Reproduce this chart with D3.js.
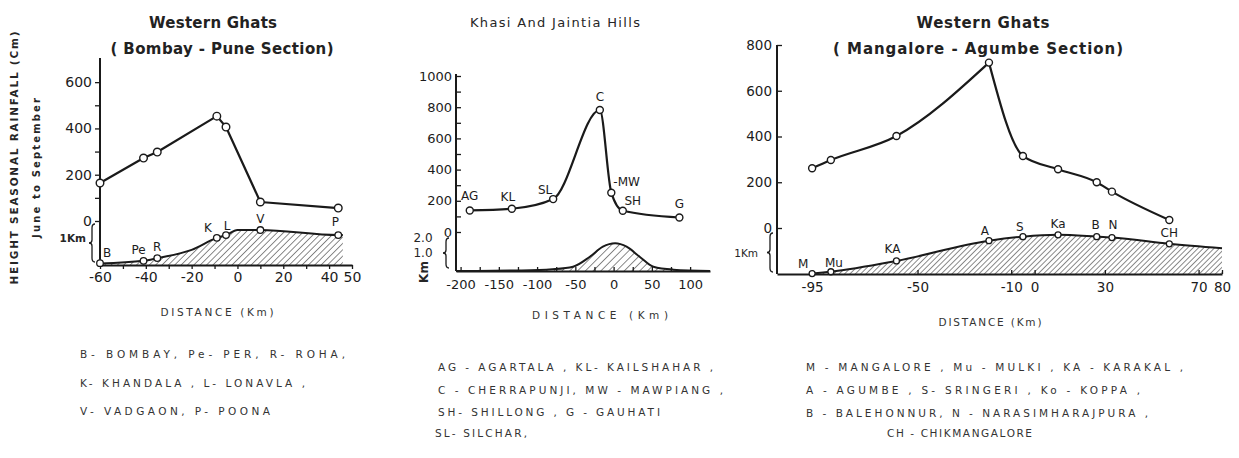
<!DOCTYPE html>
<html>
<head>
<meta charset="utf-8">
<title>Seasonal rainfall and height sections</title>
<script src="https://cdn.jsdelivr.net/npm/d3@7"></script>
<style>
  body { margin: 0; background: #fff; }
  svg text { font-family: "DejaVu Sans", sans-serif; fill: #262626; }
</style>
</head>
<body>
<script>
// Western Ghats, Bombay - Pune section
const bpCodes = ["B", "Pe", "R", "K", "L", "V", "P"];
const bpDist = [-60, -41, -35, -9, -5, 10, 44];
const bpRain = [164, 272, 298, 453, 406, 82, 56];
const bpHeight = [0.04, 0.09, 0.15, 0.59, 0.65, 0.76, 0.65];
const bpGroundDist = [-60, -41, -35, -20, -9, -5, 0, 10, 44, 46];
const bpGroundHeight = [0.03, 0.09, 0.15, 0.33, 0.59, 0.65, 0.76, 0.76, 0.65, 0.65];
const bpXTicks = [-60, -40, -20, 0, 20, 40, 50];
const bpXMinor = [-60, -50, -40, -30, -20, -10, 0, 10, 20, 30, 40, 50];
const bpYTicks = [0, 200, 400, 600];
const bpYMinor = [0, 100, 200, 300, 400, 500, 600];
const bpLegend = ["B- BOMBAY,  Pe- PER,  R- ROHA,", "K- KHANDALA ,  L- LONAVLA ,", "V- VADGAON,   P- POONA"];

// Khasi and Jaintia Hills
const kjCodes = ["AG", "KL", "SL", "C", "-MW", "SH", "G"];
const kjDist = [-188, -133, -79, -18, -3, 12, 86];
const kjRain = [138, 149, 211, 782, 252, 136, 93];
const kjGroundDist = [-206, -120, -80, -53, -31, -14, 2, 17, 34, 52, 78, 126];
const kjGroundHeight = [0, 0.03, 0.1, 0.25, 0.84, 1.43, 1.63, 1.43, 0.84, 0.25, 0.08, 0];
const kjXTicks = [-200, -150, -100, -50, 0, 50, 100];
const kjXMinor = [-200, -175, -150, -125, -100, -75, -50, -25, 0, 25, 50, 75, 100];
const kjYTicks = [0, 200, 400, 600, 800, 1000];
const kjYMinor = [0, 100, 200, 300, 400, 500, 600, 700, 800, 900, 1000];
const kjLegend = ["AG - AGARTALA ,  KL- KAILSHAHAR ,", "C - CHERRAPUNJI,  MW - MAWPIANG ,", "SH- SHILLONG ,  G - GAUHATI", "SL- SILCHAR,"];

// Western Ghats, Mangalore - Agumbe section
const maCodes = ["M", "Mu", "KA", "A", "S", "Ka", "B", "N", "CH"];
const maDist = [-95, -87, -59, -19.5, -5, 10, 26.5, 33, 57.5];
const maRain = [261, 297, 402, 723, 315, 257, 200, 159, 35];
const maHeight = [0.01, 0.05, 0.29, 0.74, 0.83, 0.87, 0.83, 0.81, 0.67];
const maGroundDist = [-95, -87, -59, -19.5, -5, 10, 26.5, 33, 57.5, 80];
const maGroundHeight = [0.01, 0.05, 0.29, 0.74, 0.83, 0.87, 0.83, 0.81, 0.67, 0.57];
const maXTicks = [-95, -50, -10, 0, 30, 70, 80];
const maYTicks = [0, 200, 400, 600, 800];
const maLegend = ["M - MANGALORE ,  Mu - MULKI ,  KA - KARAKAL ,", "A - AGUMBE ,  S- SRINGERI ,  Ko - KOPPA ,", "B - BALEHONNUR,   N - NARASIMHARAJPURA ,", "CH - CHIKMANGALORE"];

const ink = "#1a1a1a";
const svg = d3.select("body").append("svg").attr("width", 1239).attr("height", 458);
const defs = svg.append("defs");

function addHatch(id, gap) {
  const pat = defs.append("pattern").attr("id", id)
    .attr("patternUnits", "userSpaceOnUse")
    .attr("width", gap).attr("height", gap)
    .attr("patternTransform", "rotate(45)");
  pat.append("line").attr("x1", 0).attr("y1", 0).attr("x2", 0).attr("y2", gap)
    .attr("stroke", "#2a2a2a").attr("stroke-width", 1.1);
}
addHatch("hatch1", 4.5);
addHatch("hatch2", 5.5);
addHatch("hatch3", 3.8);

function txt(g, s, x, y, size, o = {}) {
  const t = g.append("text").attr("x", x).attr("y", y)
    .attr("font-size", size).attr("dominant-baseline", "central").text(s);
  t.attr("text-anchor", o.anchor || "start");
  if (o.len) t.attr("textLength", o.len).attr("lengthAdjust", "spacing");
  if (o.weight) t.attr("font-weight", o.weight);
  if (o.fill) t.style("fill", o.fill);
  if (o.rotate) t.attr("transform", `rotate(-90 ${x} ${y})`);
  return t;
}

function brace(g, bx, y1, y2) {
  const ym = (y1 + y2) / 2;
  g.append("path")
    .attr("d", `M${bx + 3},${y1} Q${bx},${y1} ${bx},${y1 + 4} L${bx},${ym - 3} Q${bx},${ym} ${bx - 3},${ym}` +
      ` Q${bx},${ym} ${bx},${ym + 3} L${bx},${y2 - 4} Q${bx},${y2} ${bx + 3},${y2}`)
    .attr("fill", "none").attr("stroke", ink).attr("stroke-width", 1.3);
}

function fmtDist(d) {
  return d < 0 ? "-" + Math.abs(d) : String(d);
}

function drawPanel(p) {
  const g = svg.append("g");
  const x = d3.scaleLinear().domain(p.xDomain).range(p.xRange);
  const y = d3.scaleLinear().domain(p.rainDomain).range(p.rainRange);
  const h = d3.scaleLinear().domain([0, 1]).range([p.base, p.base - p.kmPx]);

  // hatched ground profile
  const ground = d3.zip(p.groundDist, p.groundHeight);
  const area = d3.area().x(d => x(d[0])).y0(p.base).y1(d => h(d[1])).curve(d3.curveMonotoneX);
  g.append("path").datum(ground).attr("d", area).attr("fill", `url(#${p.hatch})`);
  g.append("path").datum(ground).attr("d", area.lineY1())
    .attr("fill", "none").attr("stroke", ink).attr("stroke-width", 2);

  // x axis
  const xAxis = d3.axisBottom(x).tickValues(p.xMinor).tickSizeInner(p.xTick).tickSizeOuter(0)
    .tickPadding(p.xPad).tickFormat(d => p.xTicks.includes(d) ? fmtDist(d) : "");
  const gx = g.append("g").attr("transform", `translate(0,${p.base})`).call(xAxis);
  gx.select(".domain").attr("stroke", ink).attr("stroke-width", 2);
  gx.selectAll(".tick line").attr("stroke", ink).attr("stroke-width", 1.3);
  gx.selectAll(".tick text").attr("font-size", p.tickFont).style("fill", "#1c1c1c")
    .attr("font-family", "DejaVu Sans, sans-serif");

  // y axis (rainfall)
  const yAxis = d3.axisLeft(y).tickValues(p.yMinor).tickSizeInner(p.yTick).tickSizeOuter(0)
    .tickPadding(p.yPad).tickFormat(d => p.yTicks.includes(d) ? d : "");
  const gy = g.append("g").attr("transform", `translate(${p.xRange[0]},0)`).call(yAxis);
  gy.select(".domain").remove();
  gy.selectAll(".tick line").attr("stroke", ink).attr("stroke-width", 1.3);
  gy.selectAll(".tick text").attr("font-size", p.tickFont).style("fill", "#1c1c1c")
    .attr("font-family", "DejaVu Sans, sans-serif");
  g.append("line").attr("x1", p.xRange[0]).attr("x2", p.xRange[0])
    .attr("y1", p.base).attr("y2", p.yTop).attr("stroke", ink).attr("stroke-width", 2);

  // rainfall line, split at a sharp peak if asked
  const rain = d3.zip(p.dist, p.rain);
  const pieces = p.peak != null ? [rain.slice(0, p.peak + 1), rain.slice(p.peak)] : [rain];
  const line = d3.line().x(d => x(d[0])).y(d => y(d[1])).curve(p.rainCurve);
  pieces.forEach(part => {
    g.append("path").datum(part).attr("d", line)
      .attr("fill", "none").attr("stroke", ink).attr("stroke-width", 2.2)
      .attr("stroke-linejoin", "round");
  });
  g.selectAll("circle.rain").data(rain).enter().append("circle").attr("class", "rain")
    .attr("cx", d => x(d[0])).attr("cy", d => y(d[1])).attr("r", p.r)
    .attr("fill", "#fff").attr("stroke", ink).attr("stroke-width", 1.4);

  // station markers on the ground line
  if (p.height) {
    g.selectAll("circle.ground").data(d3.zip(p.dist, p.height)).enter().append("circle")
      .attr("class", "ground")
      .attr("cx", d => x(d[0])).attr("cy", d => h(d[1])).attr("r", p.r - 0.5)
      .attr("fill", "#fff").attr("stroke", ink).attr("stroke-width", 1.3);
  }

  // station codes
  p.codes.forEach((c, i) => {
    const ly = p.height ? h(p.height[i]) : y(p.rain[i]);
    const n = p.nudge[c] || [0, 0];
    txt(g, c, x(p.dist[i]) + n[0], ly - 11 + n[1], 12,
      { anchor: c === "-MW" ? "start" : "middle", fill: "#1c1c1c" });
  });

  return { g, x, y, h };
}

// ---------- panel 1 ----------
const p1 = drawPanel({
  xDomain: [-60, 50], xRange: [100, 352], base: 265, kmPx: 46,
  rainDomain: [0, 700], rainRange: [221, 59], yTop: 58,
  dist: bpDist, rain: bpRain, height: bpHeight, codes: bpCodes,
  groundDist: bpGroundDist, groundHeight: bpGroundHeight,
  xTicks: bpXTicks, xMinor: bpXMinor, yTicks: bpYTicks, yMinor: bpYMinor,
  xTick: 4, xPad: 3, yTick: 5, yPad: 3, tickFont: 14, r: 3.8,
  rainCurve: d3.curveLinear, hatch: "hatch1", peak: null,
  nudge: { B: [7, 1], Pe: [-5, 0], K: [-9, 1], L: [1, 2], P: [-3, -2] }
});
txt(p1.g, "Western Ghats", 213, 23, 15, { anchor: "middle", len: 128, weight: "bold", fill: "#222" });
txt(p1.g, "( Bombay - Pune  Section)", 222, 49, 15, { anchor: "middle", len: 223, weight: "bold", fill: "#222" });
txt(p1.g, "HEIGHT  SEASONAL  RAINFALL (Cm)", 14, 158, 10.5, { anchor: "middle", len: 253, rotate: true, weight: "bold" });
txt(p1.g, "June to September", 36, 168, 10, { anchor: "middle", len: 140, rotate: true, weight: "bold" });
brace(p1.g, 92, 224, 262);
txt(p1.g, "1Km", 86, 238, 10.5, { anchor: "end", weight: "bold" });
txt(p1.g, "DISTANCE (Km)", 217, 312, 10.5, { anchor: "middle", len: 113, fill: "#333" });
bpLegend.forEach((s, i) => txt(p1.g, s, 80, [354, 383, 411][i], 10.5, { len: [265, 225, 190][i], fill: "#333" }));

// ---------- panel 2 ----------
const p2 = drawPanel({
  xDomain: [-206, 126], xRange: [456, 710], base: 271, kmPx: 17,
  rainDomain: [0, 1000], rainRange: [232, 76], yTop: 74,
  dist: kjDist, rain: kjRain, height: null, codes: kjCodes,
  groundDist: kjGroundDist, groundHeight: kjGroundHeight,
  xTicks: kjXTicks, xMinor: kjXMinor, yTicks: kjYTicks, yMinor: kjYMinor,
  xTick: -4, xPad: 9, yTick: -5, yPad: 4, tickFont: 13, r: 3.5,
  rainCurve: d3.curveMonotoneX, hatch: "hatch2", peak: null,
  nudge: { AG: [0, -3], KL: [-4, -1], SL: [-8, 2], C: [0, -2], "-MW": [2, 0], SH: [10, 1], G: [0, -2] }
});
txt(p2.g, "Khasi And Jaintia Hills", 555, 22, 13, { anchor: "middle", len: 170 });
brace(p2.g, 446, 238, 268);
txt(p2.g, "2.0", 423, 238, 12, { anchor: "middle" });
txt(p2.g, "1.0", 423, 253, 12, { anchor: "middle" });
txt(p2.g, "Km", 424, 272, 12, { anchor: "middle", rotate: true, weight: "bold" });
txt(p2.g, "DISTANCE (Km)", 600, 315, 10.5, { anchor: "middle", len: 136, fill: "#333" });
kjLegend.forEach((s, i) => txt(p2.g, s, i === 3 ? 435 : 438, [367, 390, 412, 433][i], 10.5, { len: [275, 285, 222, 92][i], fill: "#333" }));

// ---------- panel 3 ----------
const p3 = drawPanel({
  xDomain: [-110, 80], xRange: [777, 1222], base: 274, kmPx: 45,
  rainDomain: [0, 800], rainRange: [228, 45], yTop: 45,
  dist: maDist, rain: maRain, height: maHeight, codes: maCodes,
  groundDist: maGroundDist, groundHeight: maGroundHeight,
  xTicks: maXTicks, xMinor: maXTicks, yTicks: maYTicks, yMinor: maYTicks,
  xTick: -4, xPad: 8, yTick: -5, yPad: 5, tickFont: 13.5, r: 3.5,
  rainCurve: d3.curveMonotoneX, hatch: "hatch3", peak: 3,
  nudge: { M: [-9, 1], Mu: [3, 2], KA: [-4, -1], A: [-4, 1], S: [-3, 1], B: [-1, -1], N: [1, -2] }
});
txt(p3.g, "Western Ghats", 983, 23, 15, { anchor: "middle", len: 133, weight: "bold", fill: "#222" });
txt(p3.g, "( Mangalore - Agumbe  Section)", 978, 49, 15, { anchor: "middle", len: 290, weight: "bold", fill: "#222" });
brace(p3.g, 770, 233, 272);
txt(p3.g, "1Km", 758, 253, 10.5, { anchor: "end" });
txt(p3.g, "DISTANCE (Km)", 990, 322, 10.5, { anchor: "middle", len: 103, fill: "#333" });
maLegend.forEach((s, i) => txt(p3.g, s, i === 3 ? 887 : 806, [367, 390, 413, 433][i], 10.5, { len: [377, 334, 342, 145][i], fill: "#333" }));
</script>
</body>
</html>
